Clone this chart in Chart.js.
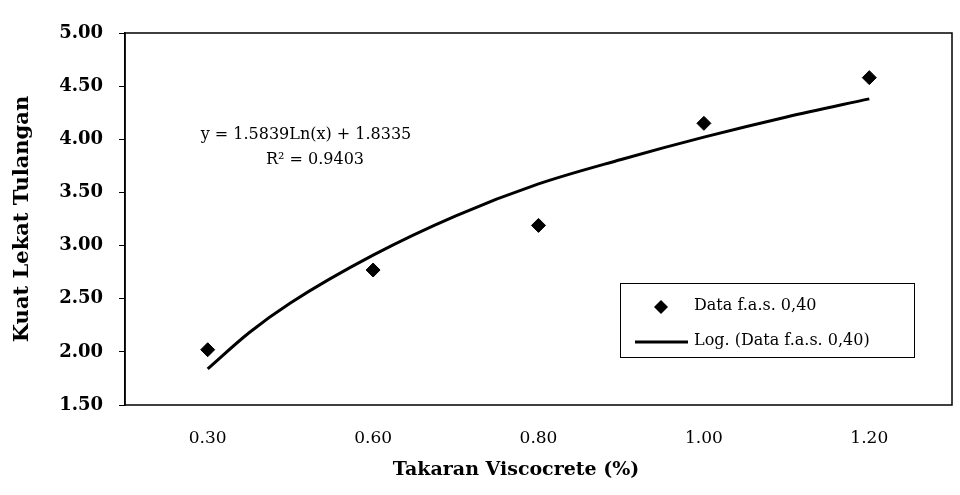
<!DOCTYPE html>
<html>
<head>
<meta charset="utf-8">
<script src="https://cdn.jsdelivr.net/npm/chart.js@4"></script>
<style>
  html, body { margin: 0; padding: 0; background: #fff; }
  #wrap { width: 960px; height: 495px; }
</style>
</head>
<body>
<div id="wrap"><canvas id="c"></canvas></div>
<script>
// data
const categories = ['0.30', '0.60', '0.80', '1.00', '1.20'];
const kuatLekat = [2.02, 2.77, 3.19, 4.15, 4.58];
// trendline
const trendPos = [1, 1.25, 1.5, 2, 2.5, 3, 3.5, 4, 4.5, 5];
const trendLog = [1.84, 2.18, 2.46, 2.91, 3.28, 3.58, 3.81, 4.02, 4.21, 4.38];
const yTickValues = [1.5, 2.0, 2.5, 3.0, 3.5, 4.0, 4.5, 5.0];

const seriesLabel = 'Data f.a.s. 0,40';
const trendLabel = 'Log. (Data f.a.s. 0,40)';
const equationText = 'y = 1.5839Ln(x) + 1.8335';
const r2Text = 'R\u00B2 = 0.9403';
const xTitle = 'Takaran Viscocrete (%)';
const yTitle = 'Kuat Lekat Tulangan';

// frame, trendline label, legend and x title
const annotPlugin = {
  id: 'annot',
  afterDraw(chart) {
    const {ctx, chartArea: {left, top, width, height}} = chart;
    ctx.save();
    ctx.strokeStyle = '#000';
    ctx.lineWidth = 1.5;
    ctx.strokeRect(left, top, width, height);

    ctx.fillStyle = '#000';
    ctx.textAlign = 'center';
    ctx.textBaseline = 'middle';
    ctx.font = '16px "DejaVu Serif"';
    ctx.fillText(equationText, 306, 135);
    ctx.fillText(r2Text, 315, 160);

    // legend
    ctx.lineWidth = 1;
    ctx.strokeRect(620.5, 283.5, 294, 74);
    ctx.beginPath();
    ctx.moveTo(661, 300);
    ctx.lineTo(668, 307);
    ctx.lineTo(661, 314);
    ctx.lineTo(654, 307);
    ctx.closePath();
    ctx.fill();
    ctx.lineWidth = 3;
    ctx.beginPath();
    ctx.moveTo(635, 342);
    ctx.lineTo(688, 342);
    ctx.stroke();
    ctx.textAlign = 'left';
    ctx.fillText(seriesLabel, 694, 306);
    ctx.fillText(trendLabel, 694, 341);

    ctx.textAlign = 'center';
    ctx.font = 'bold 19px "DejaVu Serif"';
    ctx.fillText(xTitle, 516, 470);
    ctx.restore();
  }
};

const chart = new Chart(document.getElementById('c'), {
  type: 'line',
  data: {
    datasets: [
      {
        label: seriesLabel,
        data: kuatLekat.map((v, i) => ({x: i + 1, y: v})),
        showLine: false,
        pointStyle: 'rectRot',
        pointRadius: 7,
        pointBackgroundColor: '#000',
        pointBorderColor: '#000',
        borderColor: '#000'
      },
      {
        label: trendLabel,
        data: trendLog.map((v, i) => ({x: trendPos[i], y: v})),
        borderColor: '#000',
        borderWidth: 3,
        pointRadius: 0,
        cubicInterpolationMode: 'monotone'
      }
    ]
  },
  options: {
    responsive: true,
    maintainAspectRatio: false,
    animation: false,
    layout: {padding: {top: 33, right: 7, left: 0, bottom: 0}},
    plugins: {
      legend: {display: false},
      tooltip: {enabled: false}
    },
    scales: {
      x: {
        type: 'linear',
        min: 0.5,
        max: categories.length + 0.5,
        afterBuildTicks(scale) {
          scale.ticks = categories.map((c, i) => ({value: i + 1}));
        },
        grid: {display: false, drawTicks: false},
        border: {display: false},
        ticks: {
          color: '#000',
          padding: 23,
          font: {family: '"DejaVu Serif"', size: 17},
          callback: v => categories[Math.round(v) - 1]
        },
        afterFit(scale) { scale.height = 90; }
      },
      y: {
        min: 1.5,
        max: 5,
        afterBuildTicks(scale) {
          scale.ticks = yTickValues.map(v => ({value: v}));
        },
        grid: {drawOnChartArea: false, drawTicks: true, tickLength: 6, color: '#000'},
        border: {display: true, color: '#000', width: 1.5},
        ticks: {
          color: '#000',
          padding: 16,
          font: {family: '"DejaVu Serif"', size: 18, weight: 'bold'},
          callback: v => Number(v).toFixed(2)
        },
        title: {
          display: true,
          text: yTitle,
          color: '#000',
          padding: {top: 10, bottom: 0},
          font: {family: '"DejaVu Serif"', size: 21, weight: 'bold'}
        },
        afterFit(scale) { scale.width = 125; }
      }
    }
  },
  plugins: [annotPlugin]
});
</script>
</body>
</html>
